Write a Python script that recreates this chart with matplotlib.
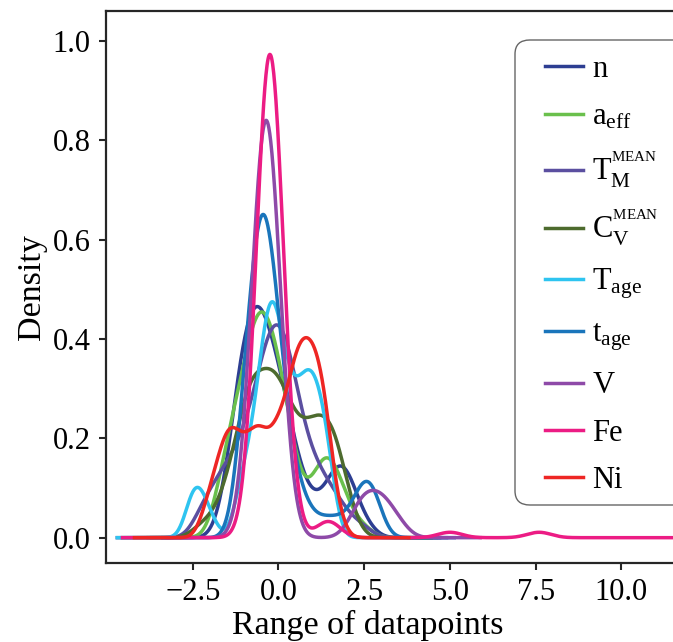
import numpy as np
import matplotlib
matplotlib.use("Agg")
import matplotlib.pyplot as plt
from matplotlib.patches import FancyBboxPatch

plt.rcParams['font.family'] = ['Liberation Serif', 'DejaVu Serif']
plt.rcParams['mathtext.fontset'] = 'custom'
plt.rcParams['mathtext.rm'] = 'Liberation Serif'
plt.rcParams['mathtext.it'] = 'Liberation Serif:italic'
plt.rcParams['mathtext.bf'] = 'Liberation Serif:bold'

# ---- data: datapoints (value, count) per variable and KDE bandwidth ----
series_labels = [r'n', r'$\mathrm{a_{eff}}$', r'$\mathrm{T_{M}^{{}^{MEAN}}}$',
                 r'$\mathrm{C_{V}^{{}^{MEAN}}}$', r'$\mathrm{T_{age}}$',
                 r'$\mathrm{t_{age}}$', 'V', 'Fe', 'Ni']
series_colors = ['#2d3e92', '#6ac04c', '#5b4fa0', '#4d6b2e', '#2ec4f0',
                 '#1a75bb', '#8e4aa8', '#ec1c84', '#ee2624']

n_points = [-1.6, -1.3, -1.0, -0.7, -0.4, -0.1, 0.2, 0.5, 0.8, 1.1, 1.4, 1.7, 2.0, 2.3, 2.6]
n_counts = [2, 8, 13, 15, 14, 11, 9, 5, 3, 2, 3, 5, 5, 2, 1]

aeff_points = [-1.7, -1.4, -1.1, -0.8, -0.5, -0.2, 0.1, 0.4, 0.7, 1.0, 1.3, 1.6, 1.9, 2.2, 2.5]
aeff_counts = [4, 7, 9, 13, 15, 13, 10, 6, 2, 3, 6, 5, 3, 1, 1]

tm_points = [-2.3, -2.0, -1.7, -1.4, -1.1, -0.8, -0.5, -0.2, 0.1, 0.4, 0.7, 1.0, 1.3, 1.6, 1.9, 2.2, 2.5]
tm_counts = [2, 3, 4, 5, 6, 8, 11, 14, 14, 11, 7, 5, 4, 3, 2, 1, 1]

cv_points = [-2.3, -2.0, -1.7, -1.4, -1.1, -0.8, -0.5, -0.2, 0.1, 0.4, 0.7, 1.0, 1.3, 1.6, 1.9, 2.2]
cv_counts = [1, 1, 2, 4, 7, 10, 9, 10, 9, 7, 6, 7, 7, 7, 4, 1]

Tage_points = [-2.6, -2.38, -2.15, -1.9, -1.2, -1.0, -0.8, -0.6, -0.4, -0.2, 0.0, 0.2, 0.4, 0.6,
               0.8, 1.0, 1.2, 1.4, 1.6]
Tage_counts = [2, 3, 2, 1, 2, 3, 4, 6, 9, 11, 9, 7, 6, 6, 7, 7, 6, 5, 2]

tage_points = [-1.25, -1.0, -0.75, -0.5, -0.25, 0.0, 0.25, 0.5, 0.75, 1.0, 1.25, 1.5, 1.75,
               2.0, 2.25, 2.5, 2.75, 3.0]
tage_counts = [2, 8, 13, 17, 15, 10, 6, 3, 2, 1, 1, 1, 1, 1, 2, 3, 3, 1]

V_points = [-0.96, -0.66, -0.36, -0.06, 0.24, 2.1, 2.4, 2.7, 3.0, 3.3, 3.6]
V_counts = [4, 21, 36, 21, 4, 1, 3, 3, 3, 2, 1]

Fe_points = [-0.5, -0.25, 0.0, 1.45, 5.0, 7.6]
Fe_counts = [23, 54, 23, 3, 1, 1]

Ni_points = [-2.2, -2.0, -1.8, -1.6, -1.4, -1.2, -1.0, -0.8, -0.6, -0.4, -0.2, 0.0, 0.2, 0.4,
             0.6, 0.8, 1.0, 1.2, 1.4, 1.6, 1.8]
Ni_counts = [1, 2, 3, 4, 5, 4, 4, 4, 5, 4, 4, 5, 5, 7, 8, 8, 8, 7, 6, 2, 1]

bandwidths = [0.3, 0.3, 0.3, 0.3, 0.22, 0.25, 0.3, 0.35, 0.22]

all_points = [n_points, aeff_points, tm_points, cv_points, Tage_points,
              tage_points, V_points, Fe_points, Ni_points]
all_counts = [n_counts, aeff_counts, tm_counts, cv_counts, Tage_counts,
              tage_counts, V_counts, Fe_counts, Ni_counts]

y_ticks = [0.0, 0.2, 0.4, 0.6, 0.8, 1.0]
x_ticks = [-2.5, 0.0, 2.5, 5.0, 7.5, 10.0]


def kde_curve(points, counts, bw):
    p = np.asarray(points, float)
    w = np.asarray(counts, float)
    lo, hi = p.min(), p.max()
    r = hi - lo
    x = np.linspace(lo - 0.5 * r, hi + 0.5 * r, 1000)
    z = (x[:, None] - p[None, :]) / bw
    y = (w[None, :] * np.exp(-0.5 * z ** 2)).sum(axis=1) / (w.sum() * bw * np.sqrt(2 * np.pi))
    return x, y


W, H = 673, 642
fig = plt.figure(figsize=(W / 100, H / 100), dpi=100)
ax = fig.add_axes([106 / W, 79 / H, 572 / W, 552 / H])

for pts, cnt, bw, lab, col in zip(all_points, all_counts, bandwidths, series_labels, series_colors):
    xs, ys = kde_curve(pts, cnt, bw)
    ax.plot(xs, ys, color=col, lw=2.5, label=lab)

ax.set_xlim(-5.03, 11.65)
ax.set_ylim(-0.051, 1.0605)
ax.set_xticks(x_ticks)
ax.set_yticks(y_ticks)
ax.set_xticklabels([f'{v:.1f}'.replace('-', '\u2212') for v in x_ticks])
ax.set_yticklabels([f'{v:.1f}' for v in y_ticks])
ax.tick_params(axis='both', labelsize=22, length=5, width=1.5, color='#262626', pad=6)
for s in ax.spines.values():
    s.set_linewidth(1.6)
    s.set_color('#262626')

ax.set_xlabel('Range of datapoints', fontsize=24.5, labelpad=2)
ax.xaxis.label.set_x((368 - 106) / 572)
ax.set_ylabel('Density', fontsize=24.5, labelpad=4)

leg = ax.legend(loc='upper left', bbox_to_anchor=(545 / W, 1 - 55 / H),
                bbox_transform=fig.transFigure, borderaxespad=0, borderpad=0,
                fontsize=22, handlelength=1.25, handletextpad=0.3,
                labelspacing=0.6, frameon=False)
leg.set_zorder(6)

frame = FancyBboxPatch((515 / W, 1 - 505 / H), (690 - 515) / W, (505 - 40) / H,
                       boxstyle='round,pad=0,rounding_size=0.022',
                       transform=fig.transFigure, facecolor='white',
                       edgecolor='#666666', linewidth=1.0, zorder=5, clip_on=False)
ax.add_patch(frame)

fig.savefig('out.png', dpi=100)
